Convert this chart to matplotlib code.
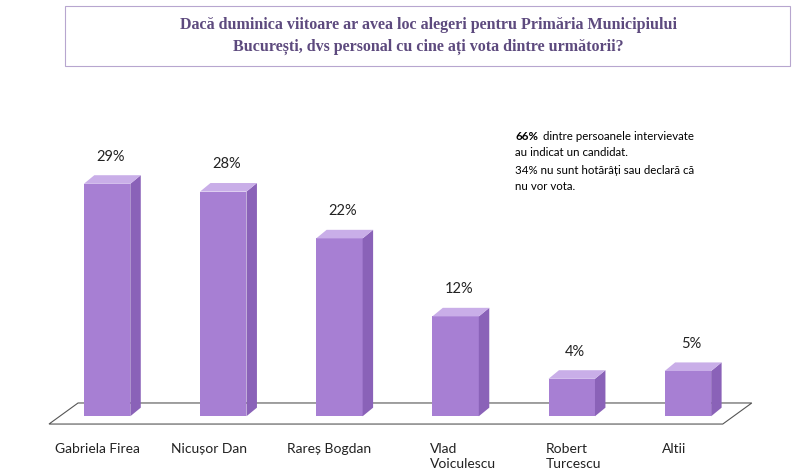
import matplotlib.pyplot as plt
from matplotlib.patches import Polygon, FancyBboxPatch

candidates = ["Gabriela Firea", "Nicușor Dan", "Rareș Bogdan", "Vlad\nVoiculescu", "Robert\nTurcescu", "Altii"]
values = [29, 28, 22, 12, 4, 5]
labels = ["29%", "28%", "22%", "12%", "4%", "5%"]

fig = plt.figure(figsize=(8, 4.76), dpi=100)
plt.rcParams['font.family'] = ['Lato', 'DejaVu Sans']

# title box
box = FancyBboxPatch((65 / 800, 1 - 66 / 476), 725 / 800, 60 / 476, boxstyle="square,pad=0",
                     transform=fig.transFigure, fill=False, edgecolor="#b7a6cf", lw=0.8)
fig.patches.append(box)
fig.text(0.535, 1 - 36 / 476,
         "Dacă duminica viitoare ar avea loc alegeri pentru Primăria Municipiului\nBucurești, dvs personal cu cine ați vota dintre următorii?",
         ha="center", va="center", fontsize=11.5, fontweight="bold", color="#5d4a7e",
         family=["Liberation Serif", "DejaVu Serif"], linespacing=1.4)

ax = fig.add_axes([49 / 800, (476 - 410) / 476, 697 / 800, 273 / 476])
ax.set_xlim(-0.5, 5.5)
ax.set_ylim(0, 35)
ax.axis("off")

w = 0.2
dx, dy = 0.09, 1.1
front, side, top = "#a77fd3", "#8a62b8", "#c9aee8"

# floor
floor = Polygon([(-0.5, -1.8), (5.3, -1.8), (5.55, 0.9), (-0.25, 0.9)], closed=True,
                facecolor="white", edgecolor="#555555", lw=0.8, clip_on=False, zorder=1)
ax.add_patch(floor)

for i, v in enumerate(values):
    x0, x1 = i - w, i + w
    ax.add_patch(Polygon([(x0, -0.8), (x1, -0.8), (x1, v), (x0, v)], facecolor=front, edgecolor="none", zorder=3, clip_on=False))
    ax.add_patch(Polygon([(x1, -0.8), (x1 + dx, -0.8 + dy), (x1 + dx, v + dy), (x1, v)], facecolor=side, edgecolor="none", zorder=3, clip_on=False))
    ax.add_patch(Polygon([(x0, v), (x1, v), (x1 + dx, v + dy), (x0 + dx, v + dy)], facecolor=top, edgecolor="none", zorder=3, clip_on=False))
    ax.text(i + 0.03, v + 2.6, labels[i], ha="center", va="bottom", fontsize=10.5, color="#222222")
    ax.text(i - 0.45 if i < 3 else i - 0.22, -4.2, candidates[i], ha="left", va="top", fontsize=10, color="#222222", linespacing=1.3)

fs = 8.3
fig.text(515 / 800, 1 - 136 / 476, "66%", fontsize=fs, fontweight="bold", va="center")
fig.text(543 / 800, 1 - 136 / 476, "dintre persoanele intervievate", fontsize=fs, va="center")
fig.text(515 / 800, 1 - 153 / 476, "au indicat un candidat.", fontsize=fs, va="center")
fig.text(515 / 800, 1 - 170 / 476, "34% nu sunt hotărâți sau declară că", fontsize=fs, va="center")
fig.text(515 / 800, 1 - 186 / 476, "nu vor vota.", fontsize=fs, va="center")

fig.savefig("out.png", dpi=100, facecolor="white")
